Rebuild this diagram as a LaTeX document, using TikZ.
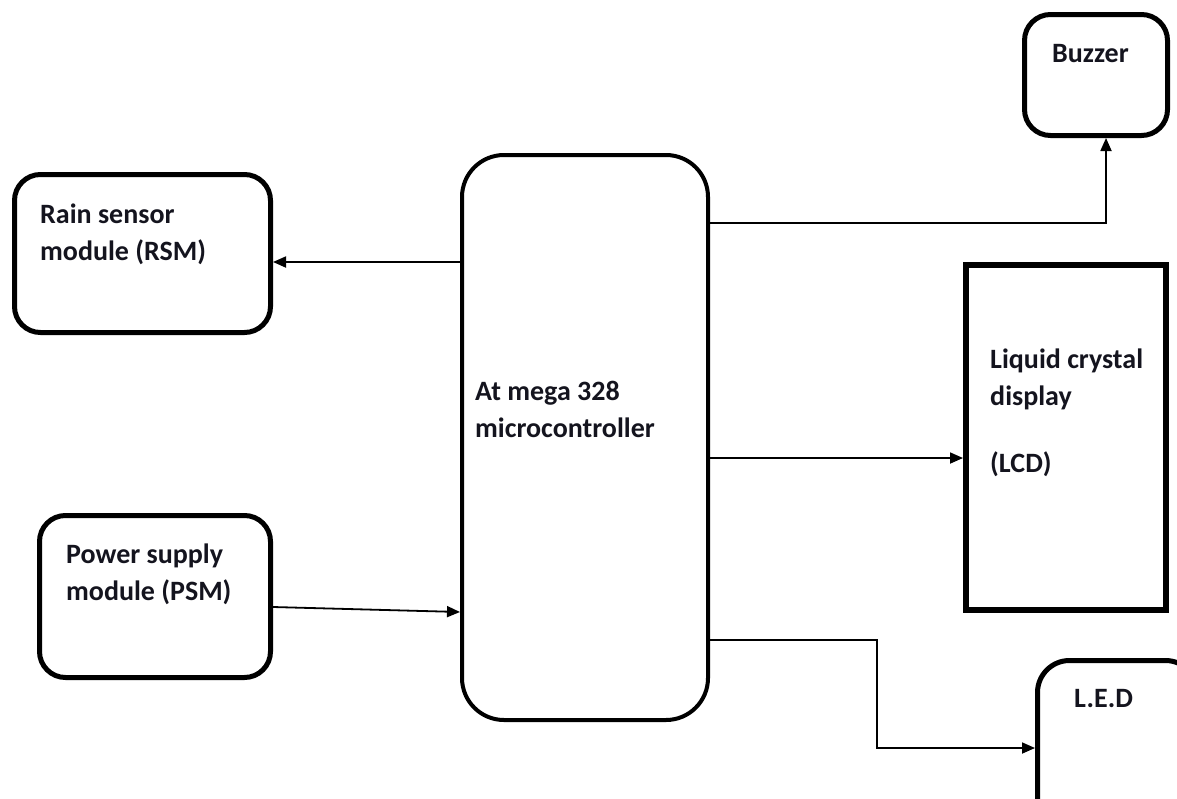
\documentclass[tikz,border=0pt]{standalone}
\usepackage{fontspec}
\setmainfont{Carlito}
\usepackage{xcolor}
\usetikzlibrary{arrows.meta, positioning, calc}
\definecolor{ink}{RGB}{20,20,30}
\tikzset{
  blk/.style={rectangle, draw=black, line width=5pt, rounded corners=26pt,
              anchor=north west, inner sep=0pt},
  mcubox/.style={blk, line width=4pt, rounded corners=42pt},
  lcdbox/.style={rectangle, draw=black, line width=6pt, anchor=north west,
                 inner sep=0pt},
  txt/.style={anchor=north west, inner sep=0pt, align=left, text=ink,
              font=\fontsize{28}{37}\selectfont\bfseries},
  arc/.style={-{Triangle[length=13pt, width=11pt]}, line width=1.8pt}
}
\begin{document}
\begin{tikzpicture}[x=1pt, y=-1pt]
  \useasboundingbox[fill=white] (0,0) rectangle (1177,798);
  % blocks
  \node[blk, minimum width=143pt, minimum height=121pt] (buzzer) at (1022,12) {};
  \node[blk, minimum width=256pt, minimum height=158pt] (rsm) at (12,172) {};
  \node[blk, minimum width=231pt, minimum height=162pt] (psm) at (37,513) {};
  \node[mcubox, minimum width=246pt, minimum height=565pt] (mcu) at (460,153) {};
  \node[lcdbox, minimum width=200pt, minimum height=345pt] (lcd) at (963,262) {};
  \node[blk, rounded corners=32pt, minimum width=160pt, minimum height=170pt] (led) at (1035,658) {};
  % texts
  \node[txt] (buzzertxt) at (1052,44) {Buzzer};
  \node[txt] (rsmtxt) at (40,204) {Rain sensor\\module (RSM)};
  \node[txt] (psmtxt) at (66,544) {Power supply\\module (PSM)};
  \node[txt] (mcutxt) at (475,381) {At mega 328\\microcontroller};
  \node[txt] (lcdtxt) at (990,349) {Liquid crystal\\display\\[30pt](LCD)};
  \node[txt] (ledtxt) at (1074,689) {L.E.D};
  % connectors
  \coordinate (ledbend) at (877,748);
  \draw[arc] (mcu.west |- 0,262) -- (rsm.east |- 0,262);
  \draw[arc] (psm.east |- 0,607) -- (mcu.west |- 0,612);
  \draw[arc] (mcu.east |- 0,223) -| ([xshift=10pt]buzzer.south);
  \draw[arc] (mcu.east |- 0,458) -- (lcd.west |- 0,458);
  \draw[arc] (mcu.east |- 0,640) -| (ledbend) -- (led.west |- ledbend);
\end{tikzpicture}
\end{document}
